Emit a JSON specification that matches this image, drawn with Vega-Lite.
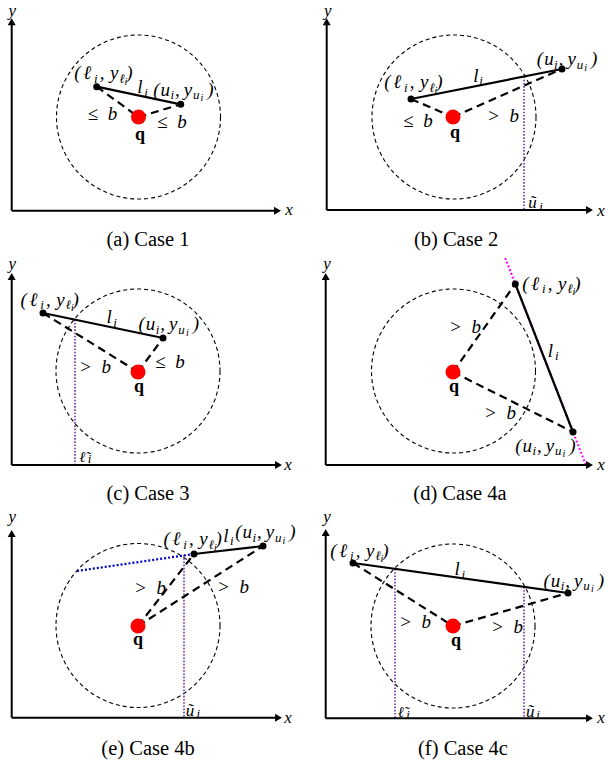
{
  "$schema": "https://vega.github.io/schema/vega-lite/v6.json",
  "width": 608,
  "height": 767,
  "autosize": {"type": "fit", "contains": "padding"},
  "padding": 0,
  "background": "white",
  "config": {"view": {"stroke": null}},
  "datasets": {
    "axes": [
      {"x": 11.7, "y": 210.7, "x2": 11.7, "y2": 22},
      {"x": 11.7, "y": 210.7, "x2": 277.5, "y2": 210.7},
      {"x": 326.7, "y": 210, "x2": 326.7, "y2": 22},
      {"x": 326.7, "y": 210, "x2": 589.5, "y2": 210},
      {"x": 11.7, "y": 465, "x2": 11.7, "y2": 276.5},
      {"x": 11.7, "y": 465, "x2": 278.5, "y2": 465},
      {"x": 325.7, "y": 465, "x2": 325.7, "y2": 276.5},
      {"x": 325.7, "y": 465, "x2": 589.5, "y2": 465},
      {"x": 11.7, "y": 717.7, "x2": 11.7, "y2": 533.5},
      {"x": 11.7, "y": 717.7, "x2": 278.5, "y2": 717.7},
      {"x": 325.7, "y": 718.3, "x2": 325.7, "y2": 532.5},
      {"x": 325.7, "y": 718.3, "x2": 589.5, "y2": 718.3}
    ],
    "arrows": [
      {"x": 11.7, "y": 21.8, "s": "triangle-up"},
      {"x": 277.5, "y": 210.7, "s": "triangle-right"},
      {"x": 326.7, "y": 21.8, "s": "triangle-up"},
      {"x": 589.5, "y": 210, "s": "triangle-right"},
      {"x": 11.7, "y": 276.5, "s": "triangle-up"},
      {"x": 278.5, "y": 465, "s": "triangle-right"},
      {"x": 325.7, "y": 276.5, "s": "triangle-up"},
      {"x": 589.5, "y": 465, "s": "triangle-right"},
      {"x": 11.7, "y": 533.5, "s": "triangle-up"},
      {"x": 278.5, "y": 717.7, "s": "triangle-right"},
      {"x": 325.7, "y": 532.5, "s": "triangle-up"},
      {"x": 589.5, "y": 718.3, "s": "triangle-right"}
    ],
    "circles": [
      {"x": 138.5, "y": 117},
      {"x": 454, "y": 117},
      {"x": 138, "y": 371},
      {"x": 453.5, "y": 371},
      {"x": 138, "y": 625.5},
      {"x": 453, "y": 626}
    ],
    "qs": [
      {"x": 138.5, "y": 117},
      {"x": 453, "y": 117},
      {"x": 138, "y": 372},
      {"x": 453, "y": 372},
      {"x": 138, "y": 626},
      {"x": 453, "y": 626}
    ],
    "ends": [
      {"x": 96.7, "y": 86.7}, {"x": 180.7, "y": 104.3},
      {"x": 411, "y": 99}, {"x": 562, "y": 69},
      {"x": 43, "y": 313}, {"x": 163, "y": 338},
      {"x": 515.3, "y": 284}, {"x": 573, "y": 432},
      {"x": 194, "y": 554}, {"x": 263, "y": 546},
      {"x": 353, "y": 563}, {"x": 568, "y": 593}
    ],
    "solid": [
      {"x": 96.7, "y": 86.7, "x2": 180.7, "y2": 104.3},
      {"x": 411, "y": 99, "x2": 562, "y2": 69},
      {"x": 43, "y": 313, "x2": 163, "y2": 338},
      {"x": 515.3, "y": 284, "x2": 573, "y2": 432},
      {"x": 194, "y": 554, "x2": 263, "y2": 546},
      {"x": 353, "y": 563, "x2": 568, "y2": 593}
    ],
    "dashed": [
      {"x": 96.7, "y": 86.7, "x2": 138.5, "y2": 117},
      {"x": 138.5, "y": 117, "x2": 180.7, "y2": 104.3},
      {"x": 411, "y": 99, "x2": 453, "y2": 117},
      {"x": 453, "y": 117, "x2": 562, "y2": 69},
      {"x": 43, "y": 313, "x2": 138, "y2": 372},
      {"x": 138, "y": 372, "x2": 163, "y2": 338},
      {"x": 453, "y": 372, "x2": 515.3, "y2": 284},
      {"x": 453, "y": 372, "x2": 573, "y2": 432},
      {"x": 138, "y": 626, "x2": 194, "y2": 554},
      {"x": 138, "y": 626, "x2": 263, "y2": 546},
      {"x": 353, "y": 563, "x2": 453, "y2": 626},
      {"x": 453, "y": 626, "x2": 568, "y2": 593}
    ],
    "purple": [
      {"x": 524, "y": 76.5, "x2": 524, "y2": 210},
      {"x": 75, "y": 319.7, "x2": 75, "y2": 465},
      {"x": 184, "y": 555, "x2": 184, "y2": 717.7},
      {"x": 395, "y": 569, "x2": 395, "y2": 718.3},
      {"x": 524, "y": 587, "x2": 524, "y2": 718.3}
    ],
    "magenta": [
      {"x": 505.2, "y": 258, "x2": 585.9, "y2": 465}
    ],
    "blue": [
      {"x": 77, "y": 571, "x2": 194, "y2": 554}
    ],
    "m": [
      {"x": 77.3, "y": 79, "t": "("}, {"x": 87.2, "y": 79, "t": "ℓ"}, {"x": 102, "y": 79, "t": ","}, {"x": 114.2, "y": 79, "t": "y"}, {"x": 129.3, "y": 79, "t": ")"},
      {"x": 387.3, "y": 88, "t": "("}, {"x": 397.2, "y": 88, "t": "ℓ"}, {"x": 412, "y": 88, "t": ","}, {"x": 424.2, "y": 88, "t": "y"}, {"x": 439.3, "y": 88, "t": ")"},
      {"x": 23.6, "y": 305.5, "t": "("}, {"x": 33.5, "y": 305.5, "t": "ℓ"}, {"x": 48.3, "y": 305.5, "t": ","}, {"x": 60.5, "y": 305.5, "t": "y"}, {"x": 75.6, "y": 305.5, "t": ")"},
      {"x": 525.3, "y": 289.5, "t": "("}, {"x": 535.2, "y": 289.5, "t": "ℓ"}, {"x": 550, "y": 289.5, "t": ","}, {"x": 562.2, "y": 289.5, "t": "y"}, {"x": 577.3, "y": 289.5, "t": ")"},
      {"x": 166.6, "y": 545, "t": "("}, {"x": 176.5, "y": 545, "t": "ℓ"}, {"x": 191.3, "y": 545, "t": ","}, {"x": 203.5, "y": 545, "t": "y"}, {"x": 218.6, "y": 545, "t": ")"},
      {"x": 333.3, "y": 556.5, "t": "("}, {"x": 343.2, "y": 556.5, "t": "ℓ"}, {"x": 358, "y": 556.5, "t": ","}, {"x": 370.2, "y": 556.5, "t": "y"}, {"x": 385.3, "y": 556.5, "t": ")"},
      {"x": 156.3, "y": 95.5, "t": "("}, {"x": 165.2, "y": 95.5, "t": "u"}, {"x": 177.3, "y": 95.5, "t": ","}, {"x": 188, "y": 95.5, "t": "y"}, {"x": 210.5, "y": 95.5, "t": ")"},
      {"x": 540, "y": 65, "t": "("}, {"x": 548.9, "y": 65, "t": "u"}, {"x": 561, "y": 65, "t": ","}, {"x": 571.7, "y": 65, "t": "y"}, {"x": 594.2, "y": 65, "t": ")"},
      {"x": 141.6, "y": 330, "t": "("}, {"x": 150.5, "y": 330, "t": "u"}, {"x": 162.6, "y": 330, "t": ","}, {"x": 173.3, "y": 330, "t": "y"}, {"x": 195.8, "y": 330, "t": ")"},
      {"x": 518.3, "y": 451.5, "t": "("}, {"x": 527.2, "y": 451.5, "t": "u"}, {"x": 539.3, "y": 451.5, "t": ","}, {"x": 550, "y": 451.5, "t": "y"}, {"x": 572.5, "y": 451.5, "t": ")"},
      {"x": 238.3, "y": 538, "t": "("}, {"x": 247.2, "y": 538, "t": "u"}, {"x": 259.3, "y": 538, "t": ","}, {"x": 270, "y": 538, "t": "y"}, {"x": 292.5, "y": 538, "t": ")"},
      {"x": 546.6, "y": 586.5, "t": "("}, {"x": 555.5, "y": 586.5, "t": "u"}, {"x": 567.6, "y": 586.5, "t": ","}, {"x": 578.3, "y": 586.5, "t": "y"}, {"x": 600.8, "y": 586.5, "t": ")"},
      {"x": 140, "y": 93, "t": "l"},
      {"x": 475.8, "y": 81.5, "t": "l"},
      {"x": 109.2, "y": 323, "t": "l"},
      {"x": 550.5, "y": 356.5, "t": "l"},
      {"x": 225.8, "y": 541.5, "t": "l"},
      {"x": 457.2, "y": 575, "t": "l"}
    ],
    "s": [
      {"x": 95.8, "y": 82.5, "t": "i"}, {"x": 122.2, "y": 82.5, "t": "ℓ"},
      {"x": 405.8, "y": 91.5, "t": "i"}, {"x": 432.2, "y": 91.5, "t": "ℓ"},
      {"x": 42.1, "y": 309, "t": "i"}, {"x": 68.5, "y": 309, "t": "ℓ"},
      {"x": 543.8, "y": 293, "t": "i"}, {"x": 570.2, "y": 293, "t": "ℓ"},
      {"x": 185.1, "y": 548.5, "t": "i"}, {"x": 211.5, "y": 548.5, "t": "ℓ"},
      {"x": 351.8, "y": 560, "t": "i"}, {"x": 378.2, "y": 560, "t": "ℓ"},
      {"x": 172.2, "y": 99, "t": "i"}, {"x": 196.3, "y": 99, "t": "u"},
      {"x": 555.9, "y": 68.5, "t": "i"}, {"x": 580, "y": 68.5, "t": "u"},
      {"x": 157.5, "y": 333.5, "t": "i"}, {"x": 181.6, "y": 333.5, "t": "u"},
      {"x": 534.2, "y": 455, "t": "i"}, {"x": 558.3, "y": 455, "t": "u"},
      {"x": 254.2, "y": 541.5, "t": "i"}, {"x": 278.3, "y": 541.5, "t": "u"},
      {"x": 562.5, "y": 590, "t": "i"}, {"x": 586.6, "y": 590, "t": "u"},
      {"x": 146, "y": 96.5, "t": "i"},
      {"x": 481, "y": 85, "t": "i"},
      {"x": 115, "y": 326.5, "t": "i"},
      {"x": 556.7, "y": 360, "t": "i"},
      {"x": 231.7, "y": 545, "t": "i"},
      {"x": 463.3, "y": 578.5, "t": "i"},
      {"x": 541, "y": 211, "t": "i"},
      {"x": 89.5, "y": 463, "t": "i"},
      {"x": 198.3, "y": 718, "t": "i"},
      {"x": 408, "y": 719, "t": "i"},
      {"x": 538, "y": 719, "t": "i"}
    ],
    "ss": [
      {"x": 126, "y": 84.5, "t": "i"},
      {"x": 436, "y": 93.5, "t": "i"},
      {"x": 72.3, "y": 311, "t": "i"},
      {"x": 574, "y": 295, "t": "i"},
      {"x": 215.3, "y": 550.5, "t": "i"},
      {"x": 382, "y": 562, "t": "i"},
      {"x": 202, "y": 101, "t": "i"},
      {"x": 585.7, "y": 70.5, "t": "i"},
      {"x": 187.3, "y": 335.5, "t": "i"},
      {"x": 564, "y": 457, "t": "i"},
      {"x": 284, "y": 543.5, "t": "i"},
      {"x": 592.3, "y": 592, "t": "i"}
    ],
    "tu": [
      {"x": 532.5, "y": 208, "t": "ũ"},
      {"x": 190, "y": 715.7, "t": "ũ"},
      {"x": 530.3, "y": 716.7, "t": "ũ"}
    ],
    "tl": [
      {"x": 82.3, "y": 461.7, "t": "ℓ̃"},
      {"x": 400.8, "y": 716.7, "t": "ℓ̃"}
    ],
    "rel": [
      {"x": 102.5, "y": 114, "t": "≤\u2002b"},
      {"x": 172, "y": 122, "t": "≤\u2002b"},
      {"x": 418, "y": 121, "t": "≤\u2002b"},
      {"x": 503, "y": 116, "t": ">\u2002b"},
      {"x": 95, "y": 367, "t": ">\u2002b"},
      {"x": 170, "y": 362, "t": "≤\u2002b"},
      {"x": 465, "y": 327, "t": ">\u2002b"},
      {"x": 500, "y": 413, "t": ">\u2002b"},
      {"x": 150, "y": 588, "t": ">\u2002b"},
      {"x": 233, "y": 587, "t": ">\u2002b"},
      {"x": 415, "y": 622, "t": ">\u2002b"},
      {"x": 507, "y": 627, "t": ">\u2002b"}
    ],
    "axislabels": [
      {"x": 12.3, "y": 15.5, "t": "y"}, {"x": 289, "y": 215, "t": "x"},
      {"x": 327.7, "y": 15.5, "t": "y"}, {"x": 601, "y": 215.5, "t": "x"},
      {"x": 12.3, "y": 269, "t": "y"}, {"x": 288, "y": 470, "t": "x"},
      {"x": 327, "y": 269, "t": "y"}, {"x": 601, "y": 470, "t": "x"},
      {"x": 12.3, "y": 522, "t": "y"}, {"x": 288, "y": 723, "t": "x"},
      {"x": 327, "y": 522, "t": "y"}, {"x": 601, "y": 723, "t": "x"}
    ],
    "qlabels": [
      {"x": 140, "y": 135, "t": "q"},
      {"x": 455, "y": 133, "t": "q"},
      {"x": 139, "y": 387, "t": "q"},
      {"x": 454, "y": 387, "t": "q"},
      {"x": 138, "y": 640, "t": "q"},
      {"x": 456, "y": 641, "t": "q"}
    ],
    "captions": [
      {"x": 148, "y": 240, "t": "(a) Case 1"},
      {"x": 456, "y": 240, "t": "(b) Case 2"},
      {"x": 148, "y": 494, "t": "(c) Case 3"},
      {"x": 460, "y": 494, "t": "(d) Case 4a"},
      {"x": 148, "y": 749, "t": "(e) Case 4b"},
      {"x": 463, "y": 749, "t": "(f) Case 4c"}
    ]
  },
  "encoding": {
    "x": {"field": "x", "type": "quantitative", "scale": {"domain": [0, 608], "nice": false, "zero": false}, "axis": null},
    "y": {"field": "y", "type": "quantitative", "scale": {"domain": [0, 767], "nice": false, "zero": false, "reverse": true}, "axis": null}
  },
  "layer": [
    {
      "data": {"name": "circles"},
      "mark": {"type": "point", "shape": "circle", "size": 26896, "filled": false, "stroke": "black", "strokeWidth": 1.1, "strokeDash": [4, 3], "opacity": 1}
    },
    {
      "data": {"name": "purple"},
      "mark": {"type": "rule", "stroke": "#7030a0", "strokeWidth": 1.6, "strokeDash": [1.6, 1.6]},
      "encoding": {"x2": {"field": "x2"}, "y2": {"field": "y2"}}
    },
    {
      "data": {"name": "magenta"},
      "mark": {"type": "rule", "stroke": "#ff00ff", "strokeWidth": 2, "strokeDash": [2, 2]},
      "encoding": {"x2": {"field": "x2"}, "y2": {"field": "y2"}}
    },
    {
      "data": {"name": "blue"},
      "mark": {"type": "rule", "stroke": "#0000cc", "strokeWidth": 2.2, "strokeDash": [2, 2]},
      "encoding": {"x2": {"field": "x2"}, "y2": {"field": "y2"}}
    },
    {
      "data": {"name": "axes"},
      "mark": {"type": "rule", "stroke": "black", "strokeWidth": 2},
      "encoding": {"x2": {"field": "x2"}, "y2": {"field": "y2"}}
    },
    {
      "data": {"name": "arrows"},
      "mark": {"type": "point", "filled": true, "size": 64, "color": "black", "opacity": 1},
      "encoding": {"shape": {"field": "s", "type": "nominal", "scale": null, "legend": null}}
    },
    {
      "data": {"name": "dashed"},
      "mark": {"type": "rule", "stroke": "black", "strokeWidth": 2.2, "strokeDash": [8, 5]},
      "encoding": {"x2": {"field": "x2"}, "y2": {"field": "y2"}}
    },
    {
      "data": {"name": "solid"},
      "mark": {"type": "rule", "stroke": "black", "strokeWidth": 2.2},
      "encoding": {"x2": {"field": "x2"}, "y2": {"field": "y2"}}
    },
    {
      "data": {"name": "ends"},
      "mark": {"type": "point", "shape": "circle", "filled": true, "size": 49, "color": "black", "opacity": 1}
    },
    {
      "data": {"name": "qs"},
      "mark": {"type": "point", "shape": "circle", "filled": true, "size": 225, "color": "#ff0000", "opacity": 1}
    },
    {
      "data": {"name": "m"},
      "mark": {"type": "text", "font": "Liberation Serif, DejaVu Serif", "fontStyle": "italic", "fontSize": 19, "align": "center", "baseline": "alphabetic", "color": "black"},
      "encoding": {"text": {"field": "t"}}
    },
    {
      "data": {"name": "s"},
      "mark": {"type": "text", "font": "Liberation Serif, DejaVu Serif", "fontStyle": "italic", "fontSize": 13, "align": "center", "baseline": "alphabetic", "color": "black"},
      "encoding": {"text": {"field": "t"}}
    },
    {
      "data": {"name": "ss"},
      "mark": {"type": "text", "font": "Liberation Serif, DejaVu Serif", "fontStyle": "italic", "fontSize": 10, "align": "center", "baseline": "alphabetic", "color": "black"},
      "encoding": {"text": {"field": "t"}}
    },
    {
      "data": {"name": "tu"},
      "mark": {"type": "text", "font": "Liberation Serif, DejaVu Serif", "fontStyle": "italic", "fontSize": 17, "align": "center", "baseline": "alphabetic", "color": "black"},
      "encoding": {"text": {"field": "t"}}
    },
    {
      "data": {"name": "tl"},
      "mark": {"type": "text", "font": "DejaVu Serif", "fontStyle": "italic", "fontSize": 15, "align": "center", "baseline": "alphabetic", "color": "black"},
      "encoding": {"text": {"field": "t"}}
    },
    {
      "data": {"name": "rel"},
      "mark": {"type": "text", "font": "Liberation Serif, DejaVu Serif", "fontStyle": "italic", "fontSize": 19, "align": "center", "baseline": "middle", "color": "black"},
      "encoding": {"text": {"field": "t"}}
    },
    {
      "data": {"name": "axislabels"},
      "mark": {"type": "text", "font": "Liberation Serif, DejaVu Serif", "fontStyle": "italic", "fontSize": 17, "align": "center", "baseline": "alphabetic", "color": "black"},
      "encoding": {"text": {"field": "t"}}
    },
    {
      "data": {"name": "qlabels"},
      "mark": {"type": "text", "font": "Liberation Serif, DejaVu Serif", "fontWeight": "bold", "fontSize": 18, "align": "center", "baseline": "middle", "color": "black"},
      "encoding": {"text": {"field": "t"}}
    },
    {
      "data": {"name": "captions"},
      "mark": {"type": "text", "font": "Liberation Serif, DejaVu Serif", "fontSize": 20.5, "align": "center", "baseline": "middle", "color": "black"},
      "encoding": {"text": {"field": "t"}}
    }
  ]
}
